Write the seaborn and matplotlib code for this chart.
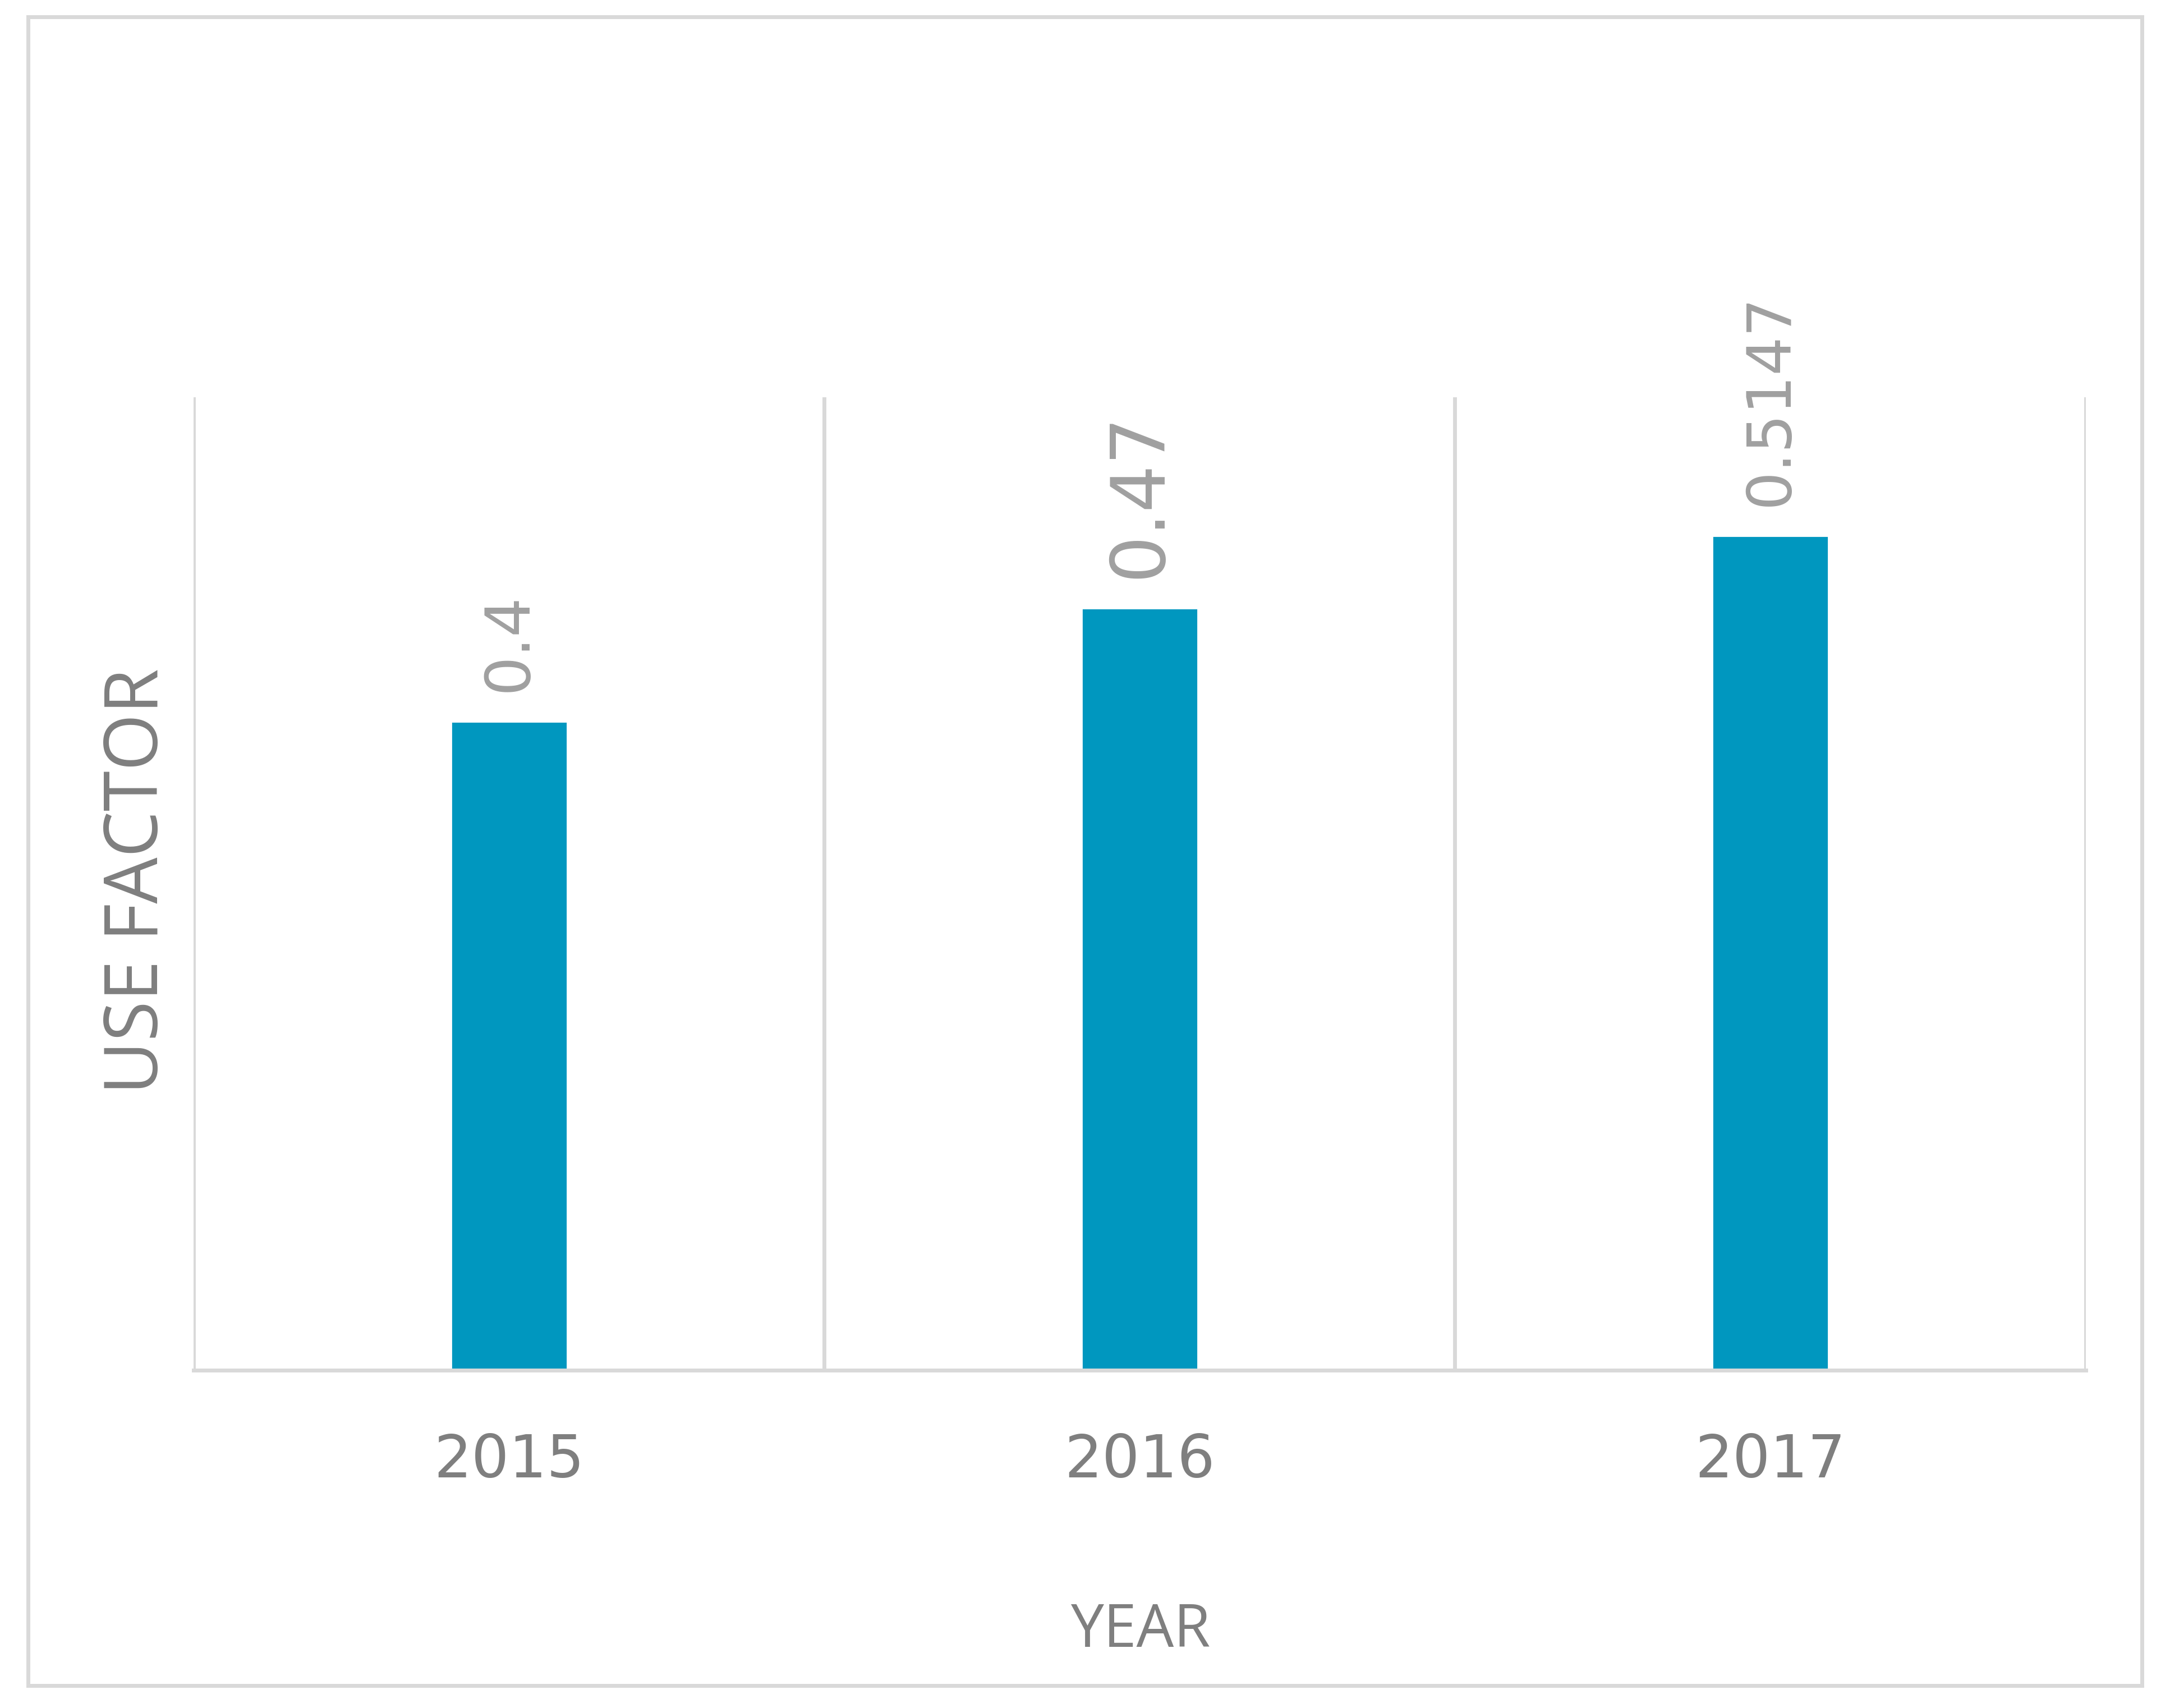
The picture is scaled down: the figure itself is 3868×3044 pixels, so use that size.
import matplotlib
matplotlib.use("Agg")
import matplotlib.pyplot as plt
import seaborn as sns
import pandas as pd

years = ["2015", "2016", "2017"]
use_factor = [0.4, 0.47, 0.5147]

sns.set_style("white")
plt.rcParams['font.family'] = ['DejaVu Sans']

bar_color = "#0097BF"
grid_color = "#D9D9D9"
label_sizes = [40, 48, 39]   # the 2016 label is drawn bigger in the original

df = pd.DataFrame({"year": years, "use_factor": use_factor})

# create a figure and axis
fig = plt.figure(figsize=(19.34, 15.22), dpi=200)
ax = fig.add_axes([0.0893, 0.1977, 0.9611 - 0.0893, 0.7674 - 0.1977])

sns.barplot(data=df, x="year", y="use_factor", color=bar_color, width=0.184,
            saturation=1, ax=ax)

ax.set_xlim(-0.5, 2.5)
ax.set_ylim(0, 0.6)

# category separators
ax.set_xticks([-0.5, 0.5, 1.5, 2.5], minor=True)
ax.grid(which="minor", axis="x", color=grid_color, lw=2.5)
ax.grid(which="major", visible=False)
ax.set_axisbelow(True)

for s in ["top", "left", "right"]:
    ax.spines[s].set_visible(False)
ax.spines["bottom"].set_color(grid_color)
ax.spines["bottom"].set_linewidth(2.5)

ax.set_yticks([])
ax.tick_params(axis="x", which="both", length=0, pad=40, labelsize=38,
               labelcolor="#7F7F7F")
ax.set_xlabel("")
ax.set_ylabel("")

#data labels
for i, v in enumerate(use_factor):
    ax.annotate(str(v), xy=(i, v), xytext=(0, 19), textcoords="offset points",
                rotation=90, ha="center", va="bottom", color="#A0A0A0",
                fontsize=label_sizes[i])

fig.text(0.5255, 0.045, "YEAR", ha="center", va="center", fontsize=38,
         color="#7F7F7F", family="Open Sans")
fig.text(0.0638, 0.484, "USE FACTOR", ha="center", va="center", rotation=90,
         fontsize=47, color="#7F7F7F", family="Open Sans")

# outer chart border
border = plt.Rectangle((0.0128, 0.013), 0.987 - 0.0128, 0.9903 - 0.013,
                       transform=fig.transFigure, fill=False,
                       edgecolor=grid_color, lw=2.5)
fig.patches.append(border)

fig.savefig("out.png", dpi=200)
